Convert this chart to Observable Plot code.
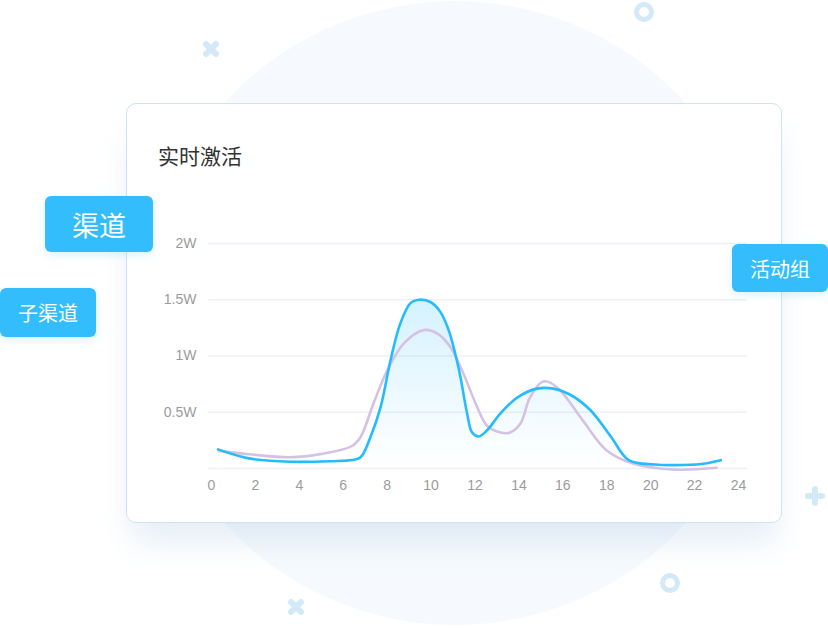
<!DOCTYPE html>
<html>
<head>
<meta charset="utf-8">
<script src="https://cdn.jsdelivr.net/npm/d3@7"></script>
<script src="https://cdn.jsdelivr.net/npm/@observablehq/plot@0.6"></script>
<style>
  html, body { margin: 0; padding: 0; background: #ffffff; }
  #stage { position: relative; width: 828px; height: 628px; overflow: hidden;
    font-family: "Liberation Sans", Arial, "Noto Sans CJK SC", sans-serif; }
  .circle { position: absolute; left: 143px; top: 1px; width: 624px; height: 624px; border-radius: 50%;
    background: #f6fafe; }
  .card { position: absolute; left: 126px; top: 103px; width: 654px; height: 418px;
    background: #ffffff; border: 1px solid #cce4f5; border-radius: 10px;
    box-shadow: 0 24px 32px -6px rgba(170, 200, 228, 0.32); }
  #chart { position: absolute; left: 126px; top: 103px; }
  .title { position: absolute; left: 158px; top: 142px; font-size: 21px; color: #333333;
    font-family: "Noto Sans CJK SC", sans-serif; line-height: 26px; }
  .tag { position: absolute; background: #33bdfd; color: #ffffff; border-radius: 6px;
    font-family: "Noto Sans CJK SC", sans-serif; display: flex; align-items: center; justify-content: center;
    box-shadow: 0 3px 8px rgba(51, 189, 253, 0.18); }
  .cross { position: absolute; width: 20px; height: 20px; }
  .cross::before, .cross::after { content: ""; position: absolute; left: 7px; top: 0; width: 6px; height: 20px;
    background: #d3e9f7; border-radius: 3px; }
  .cross::after { transform: rotate(90deg); }
  .x45 { transform: rotate(45deg); }
  .ring { position: absolute; width: 10px; height: 10px; border: 5px solid #d3e9f7; border-radius: 50%; }
</style>
</head>
<body>
<div id="stage">
  <div class="circle"></div>
  <div class="cross x45" style="left:201px; top:39px;"></div>
  <div class="ring" style="left:634px; top:2px;"></div>
  <div class="cross x45" style="left:286px; top:597px;"></div>
  <div class="ring" style="left:660px; top:573px;"></div>
  <div class="cross" style="left:805px; top:486px;"></div>
  <div class="card"></div>
  <div id="chart"></div>
  <div class="title">实时激活</div>
  <div class="tag" style="left:45px; top:196px; width:108px; height:56px; font-size:27px;">渠道</div>
  <div class="tag" style="left:0px; top:288px; width:96px; height:49px; font-size:20px;">子渠道</div>
  <div class="tag" style="left:732px; top:244px; width:96px; height:48px; font-size:20px;">活动组</div>
</div>
<script>
// Data (values in 万 / W), hour of day on x
const hoursBlue = [0.3, 1.7, 3.6, 5.5, 6.4, 6.79, 7.24, 7.7, 8.15, 8.6, 9.06, 9.43, 9.97, 10.43, 10.8, 11.1, 11.34, 11.64, 11.87, 12.17, 12.55, 13.16, 13.92, 14.83, 15.58, 16.3, 17.25, 18.2, 19.0, 20.2, 21.1, 22.3, 23.2];
const valuesBlue = [0.17, 0.09, 0.06, 0.065, 0.075, 0.10, 0.28, 0.545, 0.96, 1.29, 1.47, 1.50, 1.48, 1.39, 1.23, 1.02, 0.81, 0.49, 0.32, 0.285, 0.34, 0.49, 0.63, 0.71, 0.71, 0.66, 0.52, 0.28, 0.074, 0.035, 0.03, 0.04, 0.074];
const hoursPurple = [0.33, 1.7, 3.6, 5.0, 6.4, 6.79, 7.38, 8.0, 8.75, 9.66, 10.28, 10.88, 11.48, 12.1, 12.55, 13.16, 13.6, 14.07, 14.5, 15.06, 15.35, 15.9, 16.9, 18.0, 19.2, 21.1, 23.0];
const valuesPurple = [0.157, 0.127, 0.10, 0.13, 0.20, 0.28, 0.58, 0.87, 1.11, 1.23, 1.20, 1.08, 0.84, 0.545, 0.38, 0.32, 0.32, 0.40, 0.63, 0.77, 0.77, 0.69, 0.43, 0.16, 0.044, -0.01, 0.006];
const xTicks = [0, 2, 4, 6, 8, 10, 12, 14, 16, 18, 20, 22, 24];
const yTicks = [0.5, 1, 1.5, 2];
const gridLines = [0, 0.5, 1, 1.5, 2];

const blue = hoursBlue.map((h, i) => ({h, v: valuesBlue[i]}));
const purple = hoursPurple.map((h, i) => ({h, v: valuesPurple[i]}));

const W = 656, H = 420;
const plot = Plot.plot({
  width: W,
  height: H,
  marginLeft: 82,
  marginRight: 35,
  marginTop: 140,
  marginBottom: 55,
  style: {background: "transparent", fontSize: "14px", color: "#9b9b9b",
    fontFamily: "'Liberation Sans', Arial, sans-serif"},
  x: {domain: [0, 24], range: [85, 612]},
  y: {domain: [0, 2]},
  marks: [
    Plot.ruleY(gridLines, {stroke: "#eef0f6", strokeWidth: 1.5}),
    Plot.areaY(blue, {x: "h", y: "v", fill: "url(#blueFade)", curve: "catmull-rom"}),
    Plot.lineY(purple, {x: "h", y: "v", stroke: "#d5c2e2", strokeWidth: 2.6, curve: "catmull-rom"}),
    Plot.lineY(blue, {x: "h", y: "v", stroke: "#25bbfc", strokeWidth: 2.6, curve: "catmull-rom"}),
    Plot.axisY({ticks: yTicks, tickFormat: d => d + "W", tickSize: 0, tickPadding: 12, label: null}),
    Plot.axisX({ticks: xTicks, tickSize: 0, tickPadding: 12, label: null})
  ]
});
const svgNS = "http://www.w3.org/2000/svg";
const defs = document.createElementNS(svgNS, "defs");
defs.innerHTML = '<linearGradient id="blueFade" gradientUnits="userSpaceOnUse" x1="0" y1="195" x2="0" y2="365">' +
  '<stop offset="0" stop-color="#29bdfc" stop-opacity="0.2"/>' +
  '<stop offset="1" stop-color="#29bdfc" stop-opacity="0"/></linearGradient>';
plot.insertBefore(defs, plot.firstChild);
document.getElementById("chart").appendChild(plot);
</script>
</body>
</html>
